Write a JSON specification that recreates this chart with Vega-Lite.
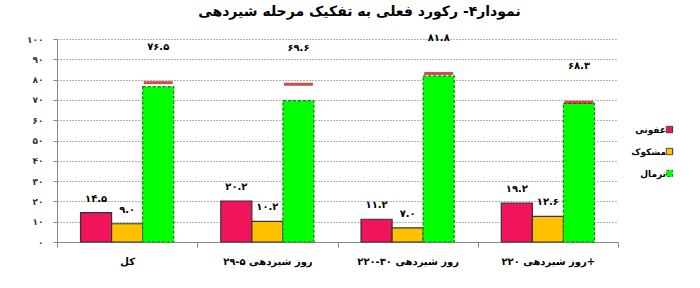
{
  "$schema": "https://vega.github.io/schema/vega-lite/v6.json",
  "width": 561,
  "height": 203,
  "autosize": {"type": "none"},
  "padding": {"left": 57, "top": 39, "right": 82, "bottom": 46},
  "background": "white",
  "config": {
    "font": "DejaVu Sans",
    "view": {"stroke": null},
    "axisY": {
      "tickCount": 10,
      "grid": true,
      "gridDash": [1, 2],
      "gridColor": "#666",
      "domainColor": "#888",
      "tickColor": "#888",
      "tickSize": 4,
      "labelPadding": 10,
      "labelFontSize": 9,
      "labelFontWeight": "bold",
      "labelColor": "#333",
      "labelOverlap": false,
      "labelExpr": "['\u06f0','\u06f1\u06f0','\u06f2\u06f0','\u06f3\u06f0','\u06f4\u06f0','\u06f5\u06f0','\u06f6\u06f0','\u06f7\u06f0','\u06f8\u06f0','\u06f9\u06f0','\u06f1\u06f0\u06f0'][round(datum.value/10)]"
    }
  },
  "title": {
    "text": "نمودار۴- رکورد فعلی به تفکیک مرحله شیردهی",
    "fontSize": 14,
    "fontWeight": "bold",
    "color": "#000",
    "anchor": "middle",
    "frame": "group",
    "dx": 22,
    "offset": 3,
    "baseline": "alphabetic"
  },
  "data": {
    "values": [
      {"cat": "کل", "series": "عفونی", "value": 14.5, "label": "۱۴.۵"},
      {"cat": "کل", "series": "مشکوک", "value": 9.0, "label": "۹.۰"},
      {"cat": "کل", "series": "نرمال", "value": 76.5, "label": "۷۶.۵", "marker": 78.5},
      {"cat": "روز شیردهی ۵-۲۹", "series": "عفونی", "value": 20.2, "label": "۲۰.۲"},
      {"cat": "روز شیردهی ۵-۲۹", "series": "مشکوک", "value": 10.2, "label": "۱۰.۲"},
      {"cat": "روز شیردهی ۵-۲۹", "series": "نرمال", "value": 69.6, "label": "۶۹.۶", "marker": 77.7},
      {"cat": "روز شیردهی ۳۰-۲۲۰", "series": "عفونی", "value": 11.2, "label": "۱۱.۲"},
      {"cat": "روز شیردهی ۳۰-۲۲۰", "series": "مشکوک", "value": 7.0, "label": "۷.۰"},
      {"cat": "روز شیردهی ۳۰-۲۲۰", "series": "نرمال", "value": 81.8, "label": "۸۱.۸", "marker": 83.0},
      {"cat": "روز شیردهی ۲۲۰+", "series": "عفونی", "value": 19.2, "label": "۱۹.۲"},
      {"cat": "روز شیردهی ۲۲۰+", "series": "مشکوک", "value": 12.6, "label": "۱۲.۶"},
      {"cat": "روز شیردهی ۲۲۰+", "series": "نرمال", "value": 68.3, "label": "۶۸.۳", "marker": 68.8}
    ]
  },
  "encoding": {
    "x": {
      "field": "cat",
      "type": "nominal",
      "sort": null,
      "scale": {"paddingInner": 0, "paddingOuter": 0},
      "axis": {
        "title": null,
        "labelAngle": 0,
        "labelFontSize": 10,
        "labelFontWeight": "bold",
        "labelColor": "#000",
        "labelBaseline": "middle",
        "labelPadding": 14,
        "tickBand": "extent",
        "tickSize": 5,
        "tickColor": "#888",
        "domainColor": "#888",
        "grid": false
      }
    },
    "xOffset": {
      "field": "series",
      "type": "nominal",
      "sort": ["عفونی", "مشکوک", "نرمال"],
      "scale": {"domain": ["عفونی", "مشکوک", "نرمال"], "paddingInner": 0, "paddingOuter": 0.758}
    }
  },
  "layer": [
    {
      "mark": {"type": "bar", "strokeWidth": 1.2},
      "encoding": {
        "y": {
          "field": "value",
          "type": "quantitative",
          "scale": {"domain": [0, 100], "nice": false},
          "axis": {"title": null}
        },
        "color": {
          "field": "series",
          "type": "nominal",
          "scale": {"domain": ["عفونی", "مشکوک", "نرمال"], "range": ["#F0145A", "#FFC000", "#00FF00"]},
          "legend": {
            "title": null,
            "orient": "none",
            "legendX": 608,
            "legendY": 86,
            "padding": 0,
            "symbolType": "square",
            "symbolSize": 40,
            "symbolStrokeColor": "#333",
            "symbolStrokeWidth": 1,
            "labelFontSize": 9,
            "labelFontWeight": "bold",
            "labelColor": "#000",
            "labelAlign": "right",
            "labelOffset": -8,
            "rowPadding": 11
          }
        },
        "stroke": {
          "field": "series",
          "type": "nominal",
          "scale": {"domain": ["عفونی", "مشکوک", "نرمال"], "range": ["#333333", "#333333", "#1E7A1E"]},
          "legend": null
        },
        "strokeDash": {
          "field": "series",
          "type": "nominal",
          "scale": {"domain": ["عفونی", "مشکوک", "نرمال"], "range": [[1, 0], [1, 0], [3, 2]]},
          "legend": null
        }
      }
    },
    {
      "transform": [{"filter": {"field": "series", "equal": "نرمال"}}],
      "mark": {"type": "tick", "color": "#C00000", "thickness": 3, "size": 29, "orient": "horizontal"},
      "encoding": {
        "y": {"field": "marker", "type": "quantitative", "axis": {"title": null}}
      }
    },
    {
      "transform": [{"filter": {"not": {"field": "series", "equal": "نرمال"}}}],
      "mark": {"type": "text", "dy": -14, "fontSize": 10, "fontWeight": "bold", "color": "#000"},
      "encoding": {
        "y": {"field": "value", "type": "quantitative", "axis": {"title": null}},
        "text": {"field": "label", "type": "nominal"}
      }
    },
    {
      "transform": [{"filter": {"field": "series", "equal": "نرمال"}}],
      "mark": {"type": "text", "dy": -36, "fontSize": 10, "fontWeight": "bold", "color": "#000"},
      "encoding": {
        "y": {"field": "marker", "type": "quantitative", "axis": {"title": null}},
        "text": {"field": "label", "type": "nominal"}
      }
    }
  ]
}
